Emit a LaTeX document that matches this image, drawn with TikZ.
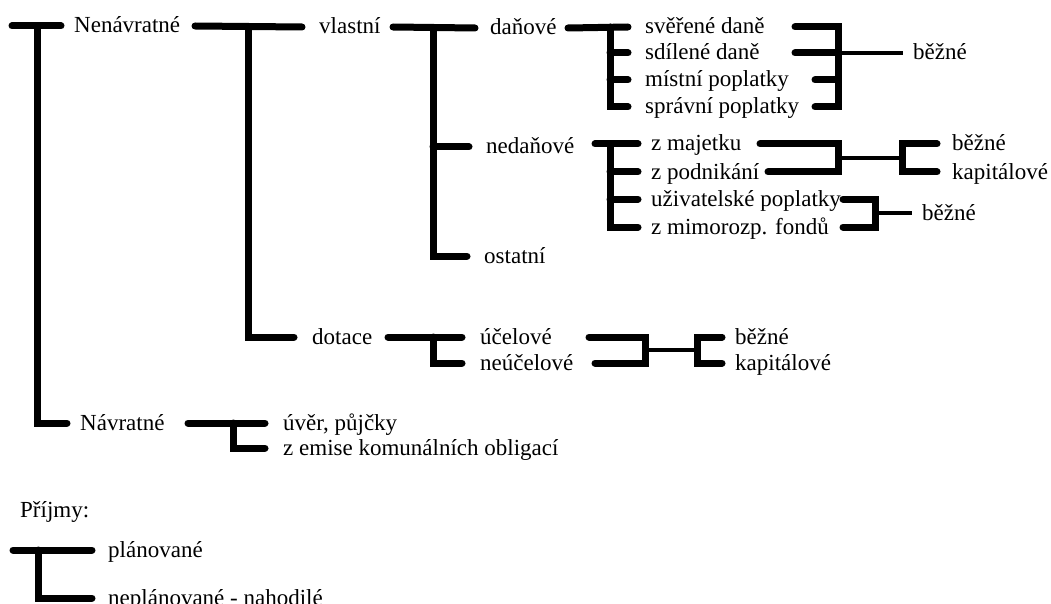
\documentclass[tikz,border=0pt]{standalone}
\usepackage{fontspec}
\setmainfont{Liberation Serif}
\usetikzlibrary{calc}
\begin{document}
\begin{tikzpicture}[x=1pt,y=-1pt,
    bar/.style={line width=7pt,line cap=round},
    link/.style={line width=4.5pt},
    lbl/.style={anchor=west,inner sep=0pt,text height=16pt,text depth=2pt,font=\fontsize{23}{27}\selectfont}]
        \useasboundingbox (0,0) rectangle (1051,604);
        % labels
        \node[lbl] (nen) at (74,26) {Nenávratné};
        \node[lbl] (vla) at (319,27) {vlastní};
        \node[lbl] (dan) at (490,28) {daňové};
        \node[lbl] (ned) at (486,147) {nedaňové};
        \node[lbl] (ost) at (484,256) {ostatní};
        \node[lbl] (sve) at (645,27) {svěřené daně};
        \node[lbl] (sdi) at (645,53) {sdílené daně};
        \node[lbl] (mis) at (645,80) {místní poplatky};
        \node[lbl] (spr) at (645,107) {správní poplatky};
        \node[lbl] (bez1) at (913,53) {běžné};
        \node[lbl] (zma) at (651,144) {z majetku};
        \node[lbl] (zpo) at (651,172) {z podnikání};
        \node[lbl] (uzi) at (651,199) {uživatelské poplatky};
        \node[lbl] (zmi) at (651,227) {z mimorozp. fondů};
        \node[lbl] (bez2) at (952,144) {běžné};
        \node[lbl] (kap1) at (952,172) {kapitálové};
        \node[lbl] (bez3) at (922,213) {běžné};
        \node[lbl] (dot) at (312,337) {dotace};
        \node[lbl] (uce) at (480,337) {účelové};
        \node[lbl] (neu) at (480,363) {neúčelové};
        \node[lbl] (bez4) at (735,337) {běžné};
        \node[lbl] (kap2) at (735,363) {kapitálové};
        \node[lbl] (nav) at (80,423) {Návratné};
        \node[lbl] (uve) at (283,423) {úvěr, půjčky};
        \node[lbl] (zem) at (283,448) {z emise komunálních obligací};
        \node[lbl] (prij) at (20,510) {Příjmy:};
        \node[lbl] (pla) at (108,550) {plánované};
        \node[lbl] (nep) at (108,598) {neplánované - nahodilé};
        % tree
        \draw[bar] ([xshift=-62pt]nen.west) -- ([xshift=-13pt]nen.west);
        \draw[bar] ([xshift=-37pt]nen.west) |- ([xshift=-13pt]nav.west);
        \draw[bar] ([xshift=121pt]nen.west) -- ([xshift=-17pt]vla.west);
        \draw[bar] ([xshift=-71pt]vla.west) |- ([xshift=-18pt]dot.west);
        \draw[bar] ([xshift=74pt]vla.west) -- ([xshift=-15pt]dan.west);
        \draw[bar] ([xshift=-57pt]dan.west) |- ([xshift=-17pt]ost.west);
        \draw[bar] ([xshift=-57pt]dan.west |- ned.west) -- ([xshift=-17pt]ned.west);
        \draw[bar] ([xshift=78pt]dan.west) -- ([xshift=-17pt]sve.west);
        \draw[bar] ([xshift=-35pt]sve.west) |- ([xshift=-17pt]spr.west);
        \foreach \n in {sdi,mis}
          \draw[bar] ([xshift=-35pt]sve.west |- \n.west) -- ([xshift=-17pt]\n.west);
        \draw[bar] ([xshift=-56pt]zma.west) -- ([xshift=-13pt]zma.west);
        \draw[bar] ([xshift=-41pt]zma.west) |- ([xshift=-13pt]zmi.west);
        \foreach \n in {zpo,uzi}
          \draw[bar] ([xshift=-41pt]zma.west |- \n.west) -- ([xshift=-13pt]\n.west);
        \draw[bar] ([xshift=76pt]dot.west) -- ([xshift=-18pt]uce.west);
        \draw[bar] ([xshift=-47pt]uce.west) |- ([xshift=-18pt]neu.west);
        \draw[bar] ([xshift=108pt]nav.west) -- ([xshift=-18pt]uve.west);
        \draw[bar] ([xshift=-50pt]uve.west) |- ([xshift=-18pt]zem.west);
        % merging brackets
        \draw[bar] ([xshift=150pt]sve.west) -| ([xshift=193pt]spr.west) -- ([xshift=170pt]spr.west);
        \draw[bar] ([xshift=150pt]sdi.west) -- ([xshift=193pt]sdi.west);
        \draw[bar] ([xshift=170pt]mis.west) -- ([xshift=193pt]mis.west);
        \draw[link] ([xshift=193pt]sdi.west) -- ([xshift=-10pt]bez1.west);
        \draw[bar] ([xshift=109pt]zma.west) -| ([xshift=187pt]zpo.west) -- ([xshift=117pt]zpo.west);
        \draw[bar] ([xshift=-15pt]bez2.west) -| ([xshift=-50pt]kap1.west) -- ([xshift=-15pt]kap1.west);
        \draw[link] ($(zma.west)!.5!(zpo.west)+(187,0)$) -- ($(bez2.west)!.5!(kap1.west)+(-50,0)$);
        \draw[bar] ([xshift=192pt]uzi.west) -| ([xshift=224pt]zmi.west) -- ([xshift=192pt]zmi.west);
        \draw[link] ($(uzi.west)!.5!(zmi.west)+(224,0)$) -- ([xshift=-10pt]bez3.west);
        \draw[bar] ([xshift=109pt]uce.west) -| ([xshift=165pt]neu.west) -- ([xshift=115pt]neu.west);
        \draw[bar] ([xshift=-13pt]bez4.west) -| ([xshift=-38pt]kap2.west) -- ([xshift=-13pt]kap2.west);
        \draw[link] ($(uce.west)!.5!(neu.west)+(165,0)$) -- ($(bez4.west)!.5!(kap2.west)+(-38,0)$);
        % legend
        \draw[bar] ([xshift=-95pt]pla.west) -- ([xshift=-16pt]pla.west);
        \draw[bar] ([xshift=-70pt]pla.west) |- ([xshift=-16pt]nep.west);
      \end{tikzpicture}
\end{document}
